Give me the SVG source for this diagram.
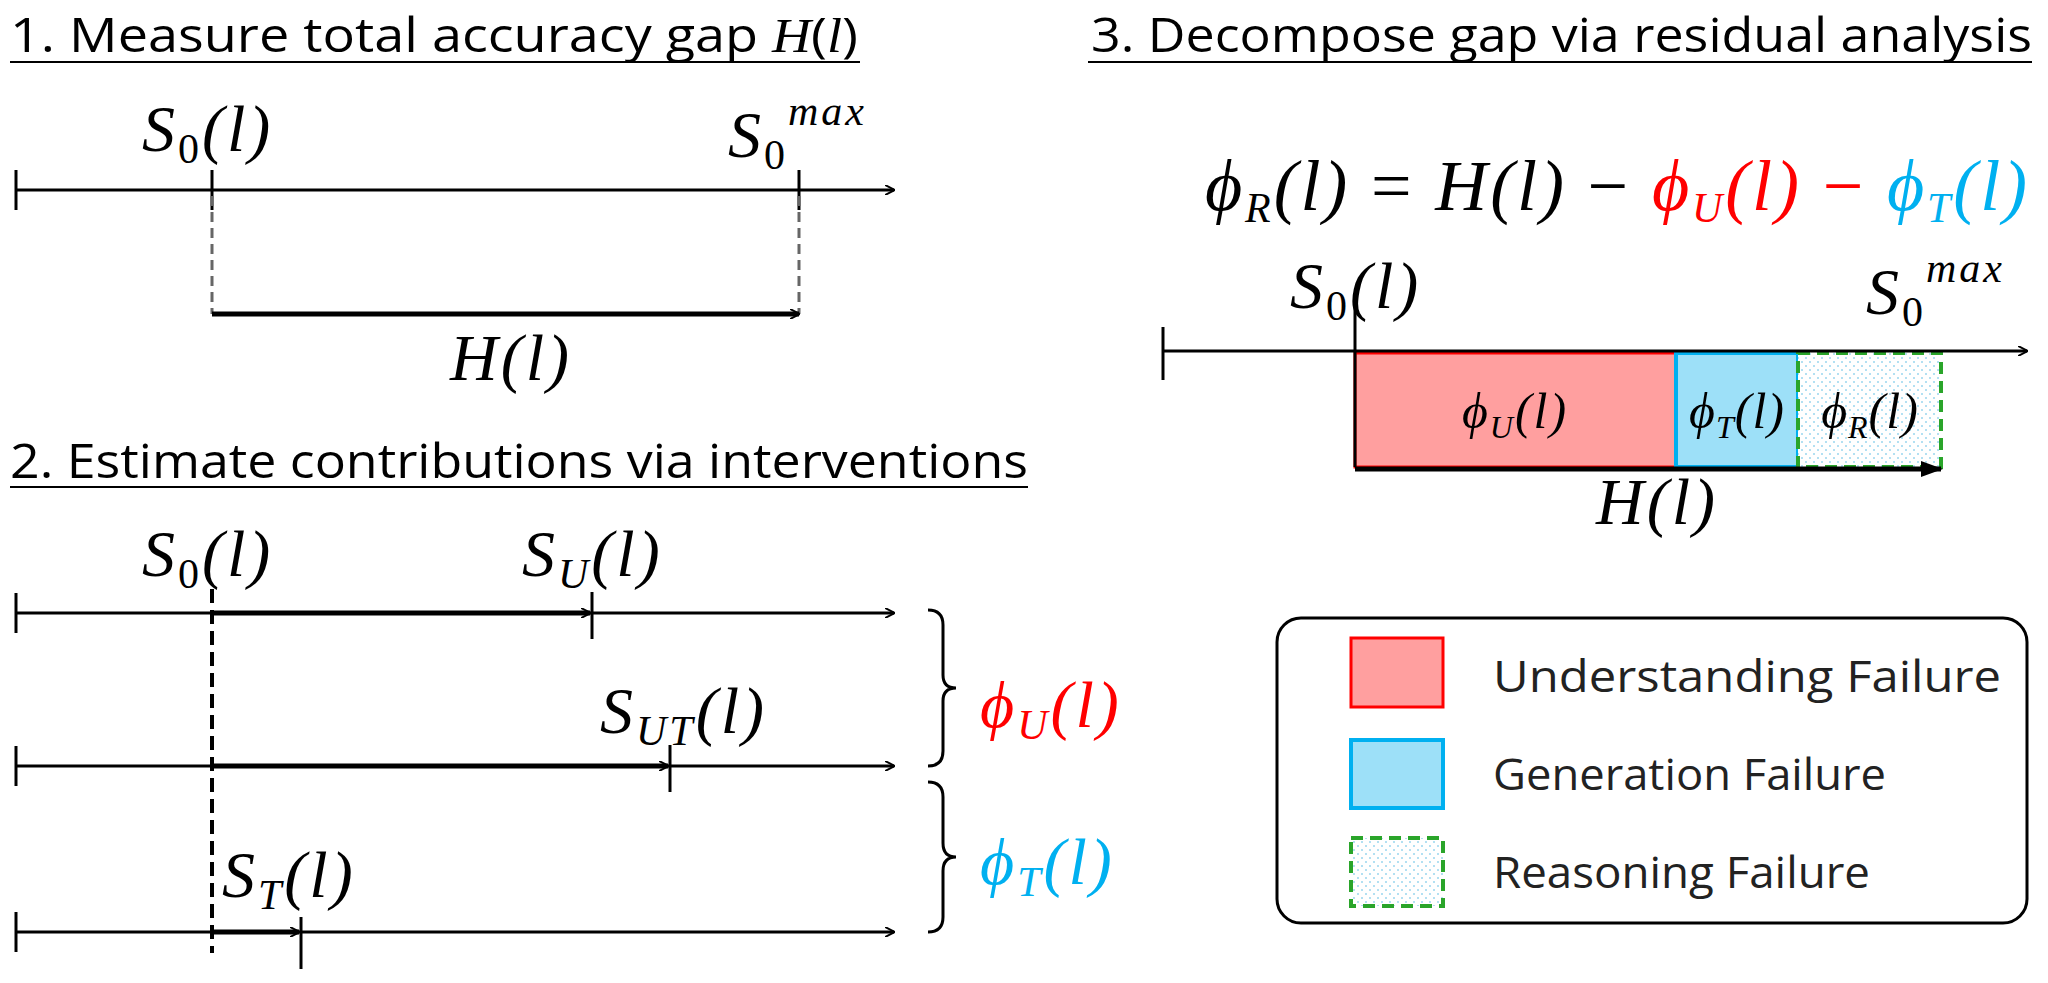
<svg xmlns="http://www.w3.org/2000/svg" width="2048" height="983" viewBox="0 0 2048 983">
<defs>
<marker id="ar" markerWidth="10" markerHeight="10" refX="9" refY="5" orient="auto" markerUnits="userSpaceOnUse"><path d="M0,0 L10,5 L0,10" fill="none" stroke="#000" stroke-width="2"/></marker>
<marker id="af" markerWidth="22" markerHeight="16" refX="20" refY="8" orient="auto" markerUnits="userSpaceOnUse"><path d="M0,0 L22,8 L0,16 Z" fill="#000"/></marker>
<pattern id="dots" width="8" height="8" patternUnits="userSpaceOnUse"><rect width="8" height="8" fill="#fff"/><circle cx="2" cy="2" r="1" fill="#9ad6ee"/><circle cx="6" cy="6" r="1" fill="#9ad6ee"/></pattern>
<style>
.t{font-family:"Open Sans","Noto Sans",sans-serif;font-size:48px;fill:#000}
.m{font-family:"Liberation Serif",serif;font-style:italic;font-size:66px;letter-spacing:3px;fill:#000}
.s{font-size:42px}
.n{font-style:normal}
.ax{stroke:#000;stroke-width:3;fill:none}
.tk{stroke:#000;stroke-width:3}
.th{stroke:#000;stroke-width:5;fill:none}
.dg{stroke:#666;stroke-width:3;stroke-dasharray:10,6}
.lg{font-family:"Open Sans","Noto Sans",sans-serif;font-size:44px;fill:#222}
</style>
</defs>
<g id="sec1">
<text class="t" x="10" y="52" textLength="848" lengthAdjust="spacingAndGlyphs">1. Measure total accuracy gap <tspan font-family="Liberation Serif" font-style="italic">H</tspan>(<tspan font-family="Liberation Serif" font-style="italic">l</tspan>)</text>
<line x1="10" y1="62" x2="860" y2="62" stroke="#000" stroke-width="2"/>
<text class="m" x="142" y="151">S<tspan class="s n" dy="12">0</tspan><tspan dy="-12">(l)</tspan></text>
<text class="m" x="728" y="157">S<tspan class="s n" dy="12">0</tspan><tspan class="s" dy="-44">max</tspan></text>
<text class="m" x="511" y="380" text-anchor="middle">H(l)</text>
</g>
<g id="sec2">
<text class="t" x="10" y="478" textLength="1018" lengthAdjust="spacingAndGlyphs">2. Estimate contributions via interventions</text>
<line x1="10" y1="487" x2="1028" y2="487" stroke="#000" stroke-width="2"/>
<text class="m" x="142" y="576">S<tspan class="s n" dy="12">0</tspan><tspan dy="-12">(l)</tspan></text>
<text class="m" x="522" y="576">S<tspan class="s" dy="12">U</tspan><tspan dy="-12">(l)</tspan></text>
<text class="m" x="600" y="733">S<tspan class="s" dy="12">UT</tspan><tspan dy="-12">(l)</tspan></text>
<text class="m" x="222" y="897">S<tspan class="s" dy="12">T</tspan><tspan dy="-12">(l)</tspan></text>
<text class="m" x="980" y="727" style="fill:#f00">ϕ<tspan class="s" dy="12">U</tspan><tspan dy="-12">(l)</tspan></text>
<text class="m" x="980" y="884" style="fill:#00b0f0">ϕ<tspan class="s" dy="12">T</tspan><tspan dy="-12">(l)</tspan></text>
</g>
<g id="sec3">
<text class="t" x="1091" y="52" textLength="941" lengthAdjust="spacingAndGlyphs">3. Decompose gap via residual analysis</text>
<line x1="1088" y1="62" x2="2032" y2="62" stroke="#000" stroke-width="2"/>
<text class="m" x="1205" y="210" style="font-size:72px" textLength="825" lengthAdjust="spacing">ϕ<tspan class="s" dy="12">R</tspan><tspan dy="-12">(l) </tspan><tspan class="n">=</tspan> H(l) <tspan class="n">−</tspan> <tspan style="fill:#f00">ϕ</tspan><tspan class="s" dy="12" style="fill:#f00">U</tspan><tspan dy="-12" style="fill:#f00">(l)</tspan> <tspan class="n" style="fill:#f00">−</tspan> <tspan style="fill:#00b0f0">ϕ</tspan><tspan class="s" dy="12" style="fill:#00b0f0">T</tspan><tspan dy="-12" style="fill:#00b0f0">(l)</tspan></text>
<text class="m" x="1290" y="308">S<tspan class="s n" dy="12">0</tspan><tspan dy="-12">(l)</tspan></text>
<text class="m" x="1866" y="314">S<tspan class="s n" dy="12">0</tspan><tspan class="s" dy="-44">max</tspan></text>
</g>
<g id="bars">
<rect id="barU" x="1355" y="353" width="321" height="114" fill="#ff9f9f" stroke="#f00" stroke-width="3"/>
<rect id="barT" x="1676" y="353" width="122" height="114" fill="#9de0f8" stroke="#00b0f0" stroke-width="4"/>
<rect id="barR" x="1798" y="353" width="143" height="114" fill="url(#dots)" stroke="#2aa52a" stroke-width="4" stroke-dasharray="12,7"/>
<text class="m" x="1515" y="428" text-anchor="middle" style="font-size:50px;letter-spacing:2px">ϕ<tspan style="font-size:32px" dy="10">U</tspan><tspan dy="-10">(l)</tspan></text>
<text class="m" x="1737" y="428" text-anchor="middle" style="font-size:50px;letter-spacing:1px">ϕ<tspan style="font-size:32px" dy="10">T</tspan><tspan dy="-10">(l)</tspan></text>
<text class="m" x="1870" y="428" text-anchor="middle" style="font-size:50px;letter-spacing:1px">ϕ<tspan style="font-size:32px" dy="10">R</tspan><tspan dy="-10">(l)</tspan></text>
<text class="m" x="1657" y="524" text-anchor="middle">H(l)</text>
</g>
<g id="legend">
<rect x="1277" y="618" width="750" height="305" rx="24" fill="#fff" stroke="#000" stroke-width="3"/>
<rect x="1351" y="638" width="92" height="69" fill="#ff9f9f" stroke="#f00" stroke-width="3"/>
<rect x="1351" y="740" width="92" height="68" fill="#9de0f8" stroke="#00b0f0" stroke-width="4"/>
<rect x="1351" y="838" width="92" height="68" fill="url(#dots)" stroke="#2aa52a" stroke-width="4" stroke-dasharray="12,7"/>
<text class="lg" x="1493" y="692" textLength="508" lengthAdjust="spacingAndGlyphs">Understanding Failure</text>
<text class="lg" x="1493" y="790" textLength="393" lengthAdjust="spacingAndGlyphs">Generation Failure</text>
<text class="lg" x="1493" y="888" textLength="377" lengthAdjust="spacingAndGlyphs">Reasoning Failure</text>
</g>
<g id="connectors">
<line class="ax" x1="16" y1="190" x2="894" y2="190" marker-end="url(#ar)"/>
<line class="tk" x1="16" y1="170" x2="16" y2="210"/>
<line class="tk" x1="212" y1="170" x2="212" y2="210"/>
<line class="tk" x1="799" y1="170" x2="799" y2="210"/>
<line class="dg" x1="212" y1="196" x2="212" y2="314"/>
<line class="dg" x1="799" y1="196" x2="799" y2="314"/>
<line class="th" x1="212" y1="314" x2="799" y2="314" marker-end="url(#ar)"/>

<line class="ax" x1="16" y1="613" x2="894" y2="613" marker-end="url(#ar)"/>
<line class="ax" x1="16" y1="766" x2="894" y2="766" marker-end="url(#ar)"/>
<line class="ax" x1="16" y1="932" x2="894" y2="932" marker-end="url(#ar)"/>
<line class="tk" x1="16" y1="593" x2="16" y2="633"/>
<line class="tk" x1="16" y1="746" x2="16" y2="786"/>
<line class="tk" x1="16" y1="912" x2="16" y2="952"/>
<line stroke="#000" stroke-width="4" stroke-dasharray="14,7" x1="212" y1="589" x2="212" y2="953"/>
<line class="th" x1="212" y1="613" x2="590" y2="613" marker-end="url(#ar)"/>
<line class="tk" x1="592" y1="592" x2="592" y2="639"/>
<line class="th" x1="212" y1="766" x2="668" y2="766" marker-end="url(#ar)"/>
<line class="tk" x1="670" y1="745" x2="670" y2="792"/>
<line class="th" x1="212" y1="932" x2="299" y2="932" marker-end="url(#ar)"/>
<line class="tk" x1="301" y1="917" x2="301" y2="969"/>
<path class="ax" d="M928,610 Q943,610 943,625 L943,675 Q943,688 956,688 Q943,688 943,701 L943,751 Q943,766 928,766"/>
<path class="ax" d="M928,782 Q943,782 943,797 L943,843 Q943,857 956,857 Q943,857 943,871 L943,917 Q943,932 928,932"/>

<line class="ax" x1="1163" y1="351" x2="2027" y2="351" marker-end="url(#ar)"/>
<line class="tk" x1="1163" y1="327" x2="1163" y2="380"/>
<line class="tk" x1="1355" y1="304" x2="1355" y2="467"/>
<line class="th" x1="1355" y1="469" x2="1941" y2="469" marker-end="url(#af)"/>
</g>
</svg>
